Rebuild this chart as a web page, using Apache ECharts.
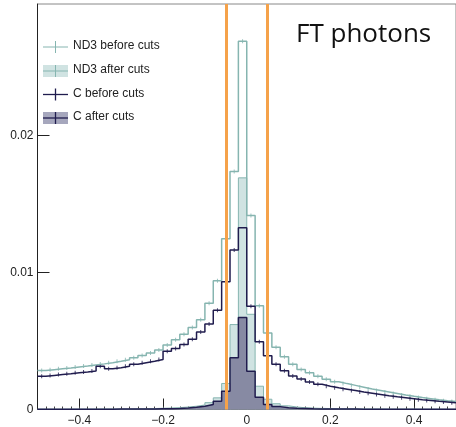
<!DOCTYPE html>
<html>
<head>
<meta charset="utf-8">
<script src="https://cdn.jsdelivr.net/npm/echarts@6.0.0/dist/echarts.min.js"></script>
<style>
  html, body { margin: 0; padding: 0; background: #fff; }
  #main { width: 456px; height: 427px; }
</style>
</head>
<body>
<div id="main"></div>
<script>
// histogram binning: 50 bins of 0.02 from -0.5 to 0.5
var binStart = -0.5;
var binWidth = 0.02;

var nd3Before = [
  0.00285, 0.00291, 0.00297, 0.00303, 0.00310, 0.00317, 0.00325, 0.00333, 0.00342, 0.00352,
  0.00363, 0.00378, 0.00395, 0.00412, 0.00435, 0.00470, 0.00510, 0.00550, 0.00598, 0.00655,
  0.00775, 0.00940, 0.01246, 0.01737, 0.02688, 0.01416, 0.00757, 0.00558, 0.00455, 0.00385,
  0.00330, 0.00292, 0.00268, 0.00243, 0.00220, 0.00203, 0.00189, 0.00176, 0.00163, 0.00150,
  0.00139, 0.00128, 0.00117, 0.00106, 0.00096, 0.00087, 0.00079, 0.00071, 0.00064, 0.00058
];
var nd3After = [
  0.00002, 0.00002, 0.00002, 0.00003, 0.00003, 0.00003, 0.00003, 0.00004, 0.00004, 0.00004,
  0.00004, 0.00005, 0.00006, 0.00007, 0.00009, 0.00011, 0.00014, 0.00018, 0.00024, 0.00033,
  0.00050, 0.00085, 0.00190, 0.00620, 0.01691, 0.00695, 0.00170, 0.00075, 0.00042, 0.00027,
  0.00018, 0.00013, 0.00010, 0.00008, 0.00007, 0.00006, 0.00005, 0.00005, 0.00004, 0.00004,
  0.00004, 0.00003, 0.00003, 0.00003, 0.00003, 0.00002, 0.00002, 0.00002, 0.00002, 0.00002
];
var cBefore = [
  0.00243, 0.00249, 0.00255, 0.00261, 0.00268, 0.00274, 0.00281, 0.00316, 0.00297, 0.00305,
  0.00315, 0.00330, 0.00342, 0.00352, 0.00365, 0.00426, 0.00445, 0.00475, 0.00512, 0.00565,
  0.00625, 0.00725, 0.00932, 0.01165, 0.01326, 0.00754, 0.00494, 0.00392, 0.00330, 0.00282,
  0.00245, 0.00222, 0.00200, 0.00184, 0.00170, 0.00158, 0.00148, 0.00138, 0.00128, 0.00119,
  0.00110, 0.00101, 0.00093, 0.00086, 0.00079, 0.00072, 0.00066, 0.00060, 0.00055, 0.00050
];
var cAfter = [
  0.00001, 0.00001, 0.00001, 0.00001, 0.00002, 0.00002, 0.00002, 0.00002, 0.00002, 0.00003,
  0.00003, 0.00003, 0.00004, 0.00004, 0.00005, 0.00006, 0.00008, 0.00011, 0.00016, 0.00024,
  0.00037, 0.00060, 0.00134, 0.00377, 0.00672, 0.00280, 0.00090, 0.00037, 0.00021, 0.00013,
  0.00009, 0.00007, 0.00005, 0.00004, 0.00004, 0.00003, 0.00003, 0.00003, 0.00002, 0.00002,
  0.00002, 0.00002, 0.00002, 0.00001, 0.00001, 0.00001, 0.00001, 0.00001, 0.00001, 0.00001
];

var cutLow = -0.05, cutHigh = 0.05;   // orange cut lines
var xTicks = [-0.4, -0.2, 0, 0.2, 0.4];
var yTicks = [0, 0.01, 0.02];

var tealLine = '#86b5b0', tealFill = '#d0e3e2';
var navyLine = '#201c4e', navyFill = '#878aa3';
var orange = '#f5a24a';

// step outline: one point per left bin edge + closing point at last right edge
function steps(vals) {
  var pts = [];
  for (var i = 0; i < vals.length; i++) pts.push([binStart + i * binWidth, vals[i]]);
  pts.push([binStart + vals.length * binWidth, vals[vals.length - 1]]);
  return pts;
}
// bin-centre markers (ROOT error-bar crosses)
function centres(vals) {
  var pts = [];
  for (var i = 0; i < vals.length; i++) pts.push([binStart + (i + 0.5) * binWidth, vals[i]]);
  return pts;
}
var minorTicks = [];
for (var k = 1; k < 50; k++) minorTicks.push(+(binStart + k * binWidth).toFixed(2));

var font = 'Liberation Sans, Arial, sans-serif';

function histo(name, vals, line, fill, width) {
  var s = {
    name: name, type: 'line', step: 'end', data: steps(vals),
    showSymbol: false, silent: true,
    lineStyle: { color: line, width: width }
  };
  if (fill) s.areaStyle = { color: fill, opacity: 1 };
  return s;
}
function marks(vals, color) {
  return {
    type: 'scatter', data: centres(vals), silent: true,
    symbol: 'rect', symbolSize: [1, 4],
    itemStyle: { color: color }
  };
}

var myChart = echarts.init(document.getElementById('main'));
var cBeforeSeries = histo('C before cuts', cBefore, navyLine, null, 1.5);
cBeforeSeries.markLine = {
  silent: true, symbol: 'none', z: 10,
  label: { show: false },
  lineStyle: { color: orange, width: 3, type: 'solid' },
  data: [{ xAxis: cutLow }, { xAxis: cutHigh }]
};

myChart.setOption({
  animation: false,
  backgroundColor: '#fff',
  title: {
    text: 'FT photons', left: 296, top: 22, padding: 0,
    textStyle: { fontFamily: 'Open Sans', fontSize: 26, fontWeight: 'normal', color: '#111' }
  },
  grid: {
    left: 37.5, top: 4, width: 422, height: 405.5,
    show: true, borderColor: '#888', borderWidth: 1
  },
  xAxis: [
    {
      type: 'value', min: -0.5, max: 0.5,
      axisLine: { show: true, onZero: false, lineStyle: { color: '#222', width: 1 } },
      axisTick: { inside: true, length: 11, customValues: xTicks, lineStyle: { color: '#222' } },
      axisLabel: {
        customValues: xTicks, fontFamily: font, fontSize: 12, color: '#222', margin: 5,
        formatter: function (v) { return String(v).replace('-', '\u2212'); }
      },
      splitLine: { show: false }
    },
    {
      type: 'value', min: -0.5, max: 0.5, position: 'bottom',
      axisLine: { show: false, onZero: false },
      axisTick: { show: true, inside: true, length: 3, customValues: minorTicks, lineStyle: { color: '#444' } },
      axisLabel: { show: false },
      splitLine: { show: false }
    }
  ],
  yAxis: {
    type: 'value', min: 0, max: 0.0296, position: 'left',
    axisLine: { show: true, onZero: false, lineStyle: { color: '#222', width: 1 } },
    axisTick: { inside: true, length: 12, customValues: yTicks, lineStyle: { color: '#222' } },
    axisLabel: { customValues: yTicks, fontFamily: font, fontSize: 12, color: '#222', margin: 4 },
    splitLine: { show: false }
  },
  series: [
    histo('ND3 after cuts', nd3After, tealLine, tealFill, 1),
    histo('C after cuts', cAfter, navyLine, navyFill, 1.5),
    histo('ND3 before cuts', nd3Before, tealLine, null, 1.5),
    cBeforeSeries,
    marks(nd3Before, tealLine),
    marks(cBefore, navyLine)
  ],
  graphic: [
    // legend, drawn ROOT style: marker cross, filled box for "after cuts"
    { type: 'line', shape: { x1: 43, y1: 47, x2: 68, y2: 47 }, style: { stroke: tealLine, lineWidth: 1 } },
    { type: 'line', shape: { x1: 55.5, y1: 41, x2: 55.5, y2: 53 }, style: { stroke: tealLine, lineWidth: 1 } },
    { type: 'text', left: 73, top: 40, style: { text: 'ND3 before cuts', font: '12px ' + font, fill: '#222' } },

    { type: 'rect', shape: { x: 43, y: 65, width: 25, height: 12 }, style: { fill: tealFill } },
    { type: 'line', shape: { x1: 43, y1: 71, x2: 68, y2: 71 }, style: { stroke: tealLine, lineWidth: 1 } },
    { type: 'line', shape: { x1: 55.5, y1: 65, x2: 55.5, y2: 77 }, style: { stroke: tealLine, lineWidth: 1 } },
    { type: 'text', left: 73, top: 64, style: { text: 'ND3 after cuts', font: '12px ' + font, fill: '#222' } },

    { type: 'line', shape: { x1: 43, y1: 94.5, x2: 68, y2: 94.5 }, style: { stroke: navyLine, lineWidth: 1.3 } },
    { type: 'line', shape: { x1: 55.5, y1: 88.5, x2: 55.5, y2: 100.5 }, style: { stroke: navyLine, lineWidth: 1.3 } },
    { type: 'text', left: 73, top: 87.5, style: { text: 'C before cuts', font: '12px ' + font, fill: '#222' } },

    { type: 'rect', shape: { x: 43, y: 112, width: 25, height: 12 }, style: { fill: '#a6a7bd' } },
    { type: 'line', shape: { x1: 43, y1: 118, x2: 68, y2: 118 }, style: { stroke: navyLine, lineWidth: 1.3 } },
    { type: 'line', shape: { x1: 55.5, y1: 112, x2: 55.5, y2: 124 }, style: { stroke: navyLine, lineWidth: 1.3 } },
    { type: 'text', left: 73, top: 111, style: { text: 'C after cuts', font: '12px ' + font, fill: '#222' } }
  ]
});
</script>
</body>
</html>
